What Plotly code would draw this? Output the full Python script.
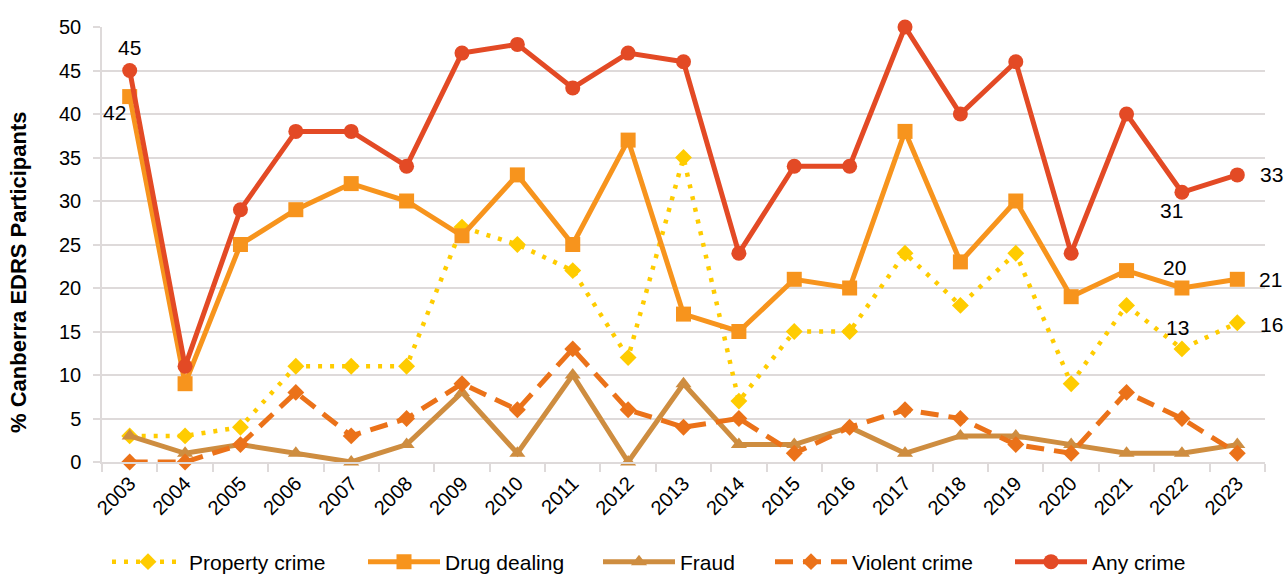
import plotly.graph_objects as go

years = [str(y) for y in range(2003, 2024)]

property_crime = [3, 3, 4, 11, 11, 11, 27, 25, 22, 12, 35, 7, 15, 15, 24, 18, 24, 9, 18, 13, 16]
drug_dealing = [42, 9, 25, 29, 32, 30, 26, 33, 25, 37, 17, 15, 21, 20, 38, 23, 30, 19, 22, 20, 21]
fraud = [3, 1, 2, 1, 0, 2, 8, 1, 10, 0, 9, 2, 2, 4, 1, 3, 3, 2, 1, 1, 2]
violent_crime = [0, 0, 2, 8, 3, 5, 9, 6, 13, 6, 4, 5, 1, 4, 6, 5, 2, 1, 8, 5, 1]
any_crime = [45, 11, 29, 38, 38, 34, 47, 48, 43, 47, 46, 24, 34, 34, 50, 40, 46, 24, 40, 31, 33]

FONT = "Liberation Sans, Arial, sans-serif"
GRID = "#DEDADA"

# plot-area geometry (px)
W, H = 1285, 574
L, R, T, B = 102, 20, 27, 112
PW, PH = W - L - R, H - T - B


def px_x(x):
    return (x - L) / PW


def px_y(y):
    return (H - B - y) / PH


n = len(years)
series = [
    dict(name="Property crime", y=property_crime, color="#FFCC00",
         dash="4px,8px", width=4.5, symbol="diamond", size=13, leg_x=112,
         # value labels: index -> (x offset, y offset) in px from the marker
         labels={n - 2: (-4, 21), n - 1: (34, -2)}),
    dict(name="Drug dealing", y=drug_dealing, color="#F7941D",
         dash="solid", width=5, symbol="square", size=15, leg_x=368,
         labels={0: (-15, -16), n - 2: (-7, 21), n - 1: (33, 0)}),
    dict(name="Fraud", y=fraud, color="#CE8D40",
         dash="solid", width=5, symbol="triangle-up", size=14, leg_x=603,
         labels={}),
    dict(name="Violent crime", y=violent_crime, color="#EB7219",
         dash="18px,10px", width=5, symbol="diamond", size=13, leg_x=775,
         labels={}),
    dict(name="Any crime", y=any_crime, color="#E34A25",
         dash="solid", width=5, symbol="circle", size=15, leg_x=1015,
         labels={0: (0, 23), n - 2: (-10, -18), n - 1: (34, 0)}),
]

fig = go.Figure()
legend_layouts = {}
annotations = []
for k, s in enumerate(series):
    leg = "legend" if k == 0 else f"legend{k + 1}"
    fig.add_trace(go.Scatter(
        x=years, y=s["y"], name=s["name"], legend=leg,
        mode="lines+markers",
        line=dict(color=s["color"], width=s["width"], dash=s["dash"]),
        marker=dict(symbol=s["symbol"], size=s["size"], color=s["color"],
                    line=dict(width=0)),
        cliponaxis=False,
    ))
    for i, (dx, dy) in s["labels"].items():
        # category axes place annotations by category index
        annotations.append(dict(
            x=i, y=s["y"][i], xref="x", yref="y",
            text=str(s["y"][i]), showarrow=False,
            xanchor="center", yanchor="middle", xshift=dx, yshift=dy,
            font=dict(family=FONT, size=21, color="#000000"),
        ))
    legend_layouts[leg] = dict(
        orientation="h", x=px_x(s["leg_x"] - 5), xanchor="left",
        y=px_y(562), yanchor="middle",
        font=dict(family=FONT, size=21, color="#000000"),
        itemwidth=72, bgcolor="rgba(0,0,0,0)",
    )

annotations.append(dict(
    text="<b>% Canberra EDRS Participants</b>",
    xref="paper", yref="paper", x=px_x(18), y=px_y(272),
    xanchor="center", yanchor="middle", textangle=-90, showarrow=False,
    font=dict(family=FONT, size=22, color="#000000"),
))

fig.update_layout(
    width=W, height=H,
    margin=dict(l=L, r=R, t=T, b=B, autoexpand=False),
    paper_bgcolor="white", plot_bgcolor="white",
    font=dict(family=FONT, size=20, color="#000000"),
    showlegend=True,
    xaxis=dict(
        type="category", range=[-0.5, n - 0.5], tickangle=-45, automargin=False,
        showgrid=False, showline=True, linecolor=GRID, linewidth=1.5,
        ticks="outside", tickson="boundaries", ticklen=8, tickcolor=GRID, tickwidth=1.5,
        tickfont=dict(family=FONT, size=20, color="#000000"),
    ),
    yaxis=dict(
        range=[0, 50], dtick=5, tick0=0, automargin=False,
        showgrid=True, gridcolor=GRID, gridwidth=1.5,
        showline=True, linecolor=GRID, linewidth=1.5,
        ticks="outside", ticklen=7, tickcolor=GRID, tickwidth=1.5,
        zeroline=False, ticklabelstandoff=8,
        tickfont=dict(family=FONT, size=20, color="#000000"),
    ),
    annotations=annotations,
    **legend_layouts,
)

fig.write_html("out.html")
